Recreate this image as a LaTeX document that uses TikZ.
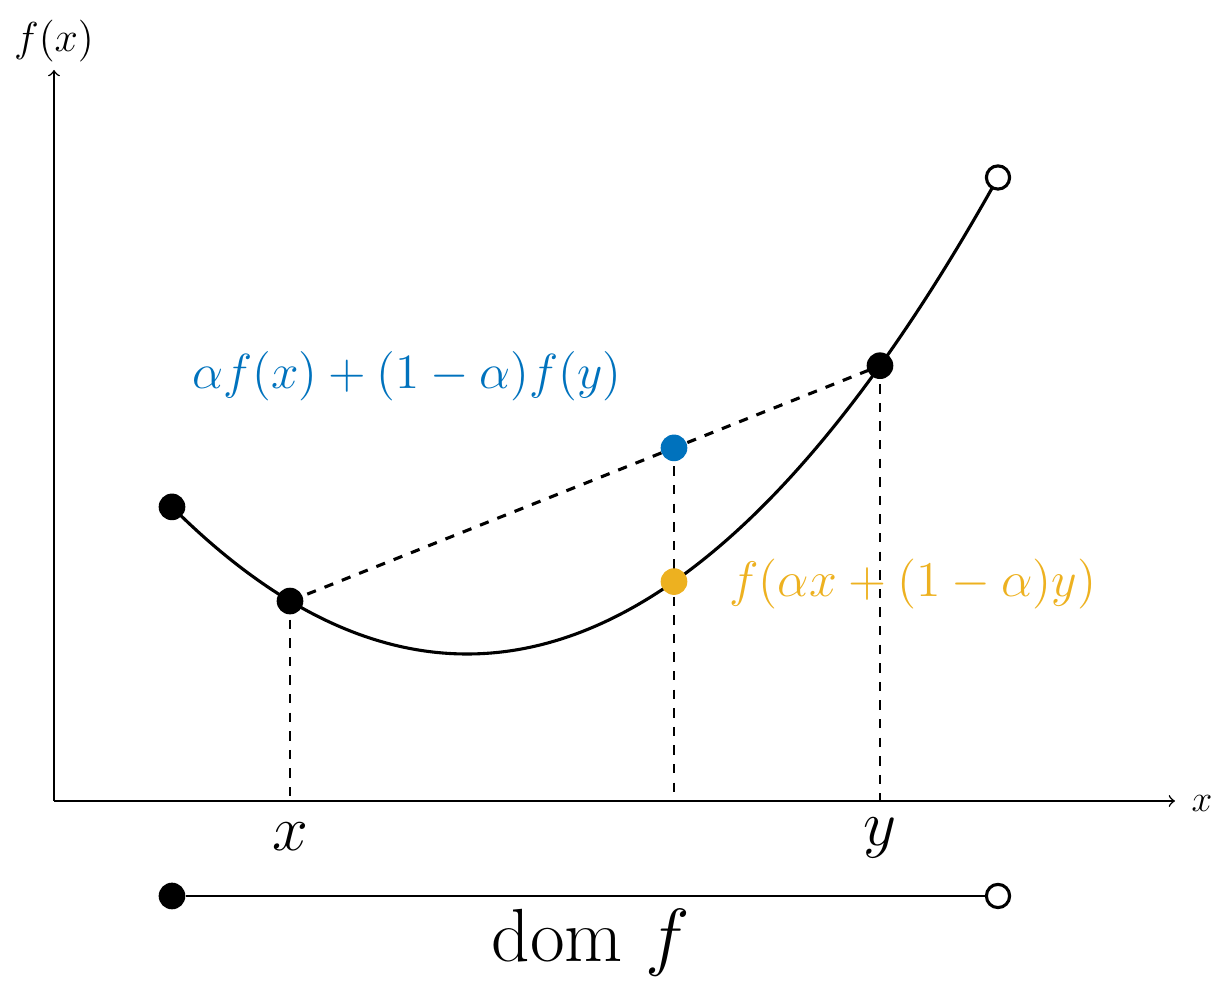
\RequirePackage{fix-cm}
\documentclass[tikz,border=0pt]{standalone}
\usepackage{amsmath}
\definecolor{mblue}{RGB}{0,114,189}
\definecolor{morange}{RGB}{237,177,32}
\begin{document}
\begin{tikzpicture}[x=0.3226pt,y=-0.3226pt,
  dot/.style={circle,fill=black,inner sep=0pt,minimum size=8.6pt},
  opendot/.style={circle,draw=black,fill=white,line width=1pt,inner sep=0pt,minimum size=7.5pt},
  axisline/.style={->,line width=0.5pt},
  guide/.style={dashed,line width=0.5pt},
  chord/.style={dashed,line width=1pt},
  curveline/.style={line width=1pt},
  domline/.style={line width=0.5pt},
  bluelabel/.style={text=mblue,font=\fontsize{15.9}{19}\selectfont},
  orangelabel/.style={text=morange,font=\fontsize{16.1}{19}\selectfont}]
\useasboundingbox (0,0) rectangle (1229,990);
% axes
\coordinate (O) at (54,801);
\coordinate (yend) at (54,70);
\coordinate (xend) at (1175,801);
\draw[axisline] (O) -- (yend);
\draw[axisline] (O) -- (xend);
\node[font=\fontsize{13.5}{16}\selectfont] (flab) at (54,41) {$f(x)$};
\node[font=\large] (xlab) at (1202,803) {$x$};
% points
\coordinate (A) at (172,506.9);
\coordinate (P) at (290,601.05);
\coordinate (M) at (674,581.6);
\coordinate (Q) at (880,365.7);
\coordinate (B) at (998,177.5);
\coordinate (C) at (674,447.9);
\coordinate (Pa) at (290,801);
\coordinate (Ma) at (674,801);
\coordinate (Qa) at (880,801);
% guides
\draw[guide] (P) -- (Pa);
\draw[guide] (C) -- (Ma);
\draw[guide] (Q) -- (Qa);
% curve
\draw[curveline] plot[domain=172:998,samples=120,smooth] (\x,{654-(0.04111*(\x-467))^2});
% chord
\draw[chord] (P) -- (Q);
% dots
\node[dot] (Ad) at (A) {};
\node[dot] (Pd) at (P) {};
\node[dot] (Qd) at (Q) {};
\node[opendot] (Bd) at (B) {};
\node[dot,fill=mblue] (Cd) at (C) {};
\node[dot,fill=morange] (Md) at (M) {};
% labels
\node[bluelabel] (clab) at (407,376) {$\alpha f(x)+(1-\alpha)f(y)$};
\node[orangelabel] (mlab) at (913,584) {$f(\alpha x+(1-\alpha)y)$};
\node[anchor=base,font=\huge] (xl) at (290,851) {$x$};
\node[anchor=base,font=\huge] (yl) at (880,846) {$y$};
% domain
\node[dot] (D1) at (172,896) {};
\node[opendot] (D2) at (998,896) {};
\draw[domline] (D1) -- (D2);
\node[anchor=base,font=\fontsize{24.3}{28}\selectfont] (domlab) at (591,962) {dom $f$};
\end{tikzpicture}
\end{document}
